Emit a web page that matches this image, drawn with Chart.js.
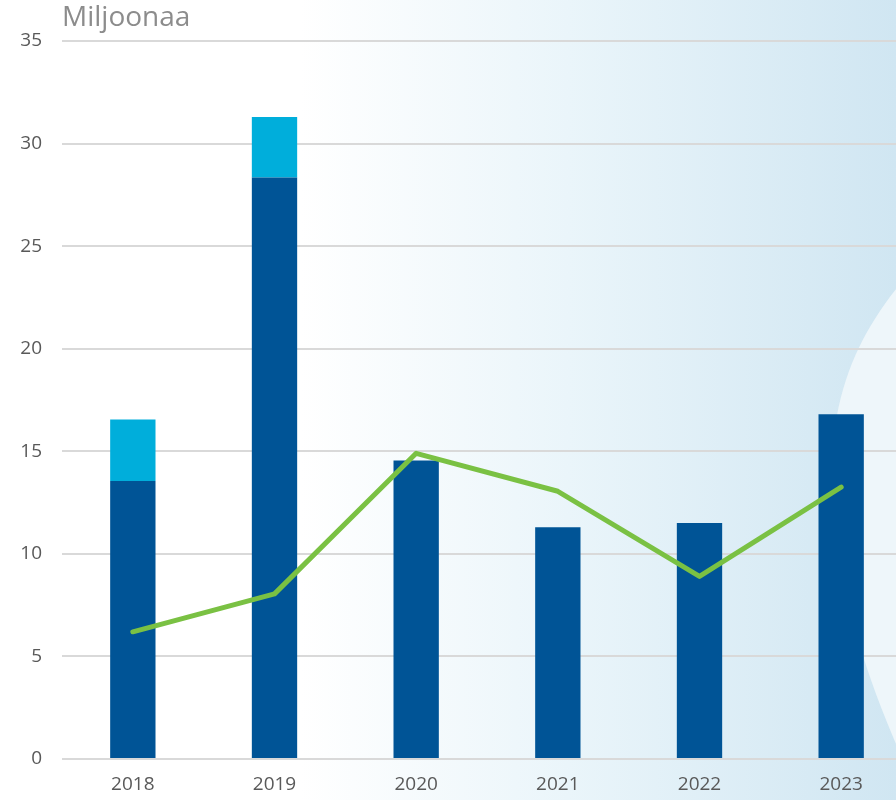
<!DOCTYPE html>
<html>
<head>
<meta charset="utf-8">
<script src="https://cdn.jsdelivr.net/npm/chart.js@4"></script>
<style>
  html, body { margin: 0; padding: 0; overflow: hidden; background: #fff; }
  #wrap { width: 912px; height: 800px; }
</style>
</head>
<body>
<div id="wrap"><canvas id="grafico"></canvas></div>
<script>
// Datos
const vuodet = ['2018', '2019', '2020', '2021', '2022', '2023'];
const tummaSarja = [13.55, 28.35, 14.55, 11.3, 11.5, 16.8];
const vaaleaSarja = [3.0, 2.95, 0, 0, 0, 0];
const viivaSarja = [6.2, 8.05, 14.9, 13.05, 8.9, 13.25];

// Fondo degradado y forma curva a la derecha
const fondo = {
    id: 'fondo',
    beforeDraw(chart) {
        const ctx = chart.ctx;
        const w = chart.width, h = chart.height;
        ctx.save();
        const g = ctx.createLinearGradient(300, 0, 896, 0);
        g.addColorStop(0, '#ffffff');
        g.addColorStop(0.45, '#eaf5fa');
        g.addColorStop(1, '#d0e6f2');
        ctx.fillStyle = g;
        ctx.fillRect(0, 0, w, h);
        // forma curva más clara
        ctx.beginPath();
        ctx.moveTo(912, 270);
        ctx.bezierCurveTo(850, 340, 815, 420, 840, 560);
        ctx.bezierCurveTo(855, 650, 885, 720, 912, 780);
        ctx.closePath();
        ctx.fillStyle = '#eef6fa';
        ctx.fill();
        ctx.restore();
    },
    afterDraw(chart) {
        const ctx = chart.ctx;
        ctx.save();
        ctx.font = '28px "Open Sans"';
        ctx.fillStyle = '#8c8c8c';
        ctx.textBaseline = 'middle';
        ctx.fillText('Miljoonaa', chart.chartArea.left, 18);
        ctx.restore();
    }
};

const ctxGrafico = document.getElementById('grafico').getContext('2d');
new Chart(ctxGrafico, {
    data: {
        labels: vuodet,
        datasets: [
            {
                type: 'line',
                data: viivaSarja,
                borderColor: '#7ac143',
                borderWidth: 5,
                borderCapStyle: 'round',
                borderJoinStyle: 'round',
                pointRadius: 0,
                tension: 0,
                order: 0,
            },
            {
                type: 'bar',
                data: tummaSarja,
                backgroundColor: '#005496',
                barPercentage: 0.64,
                categoryPercentage: 0.5,
                order: 1,
            },
            {
                type: 'bar',
                data: vaaleaSarja,
                backgroundColor: '#00aedb',
                barPercentage: 0.64,
                categoryPercentage: 0.5,
                order: 1,
            },
        ],
    },
    options: {
        responsive: true,
        maintainAspectRatio: false,
        animation: false,
        layout: { padding: { top: 41, right: 0, bottom: 0, left: 0 } },
        plugins: {
            legend: { display: false },
            tooltip: { enabled: false },
        },
        scales: {
            x: {
                stacked: true,
                grid: { display: false },
                border: { display: false },
                ticks: { color: '#595959', font: { family: 'Open Sans', size: 19 }, padding: 6 },
                afterFit: (scale) => { scale.height = 41; },
            },
            y: {
                stacked: true,
                min: 0,
                max: 35,
                ticks: { stepSize: 5, color: '#595959', font: { family: 'Open Sans', size: 19 }, padding: 20 },
                grid: { color: '#d9d9d9', lineWidth: 2, drawTicks: false },
                border: { display: false },
                afterFit: (scale) => { scale.width = 62; },
            },
        },
    },
    plugins: [fondo],
});
</script>
</body>
</html>
